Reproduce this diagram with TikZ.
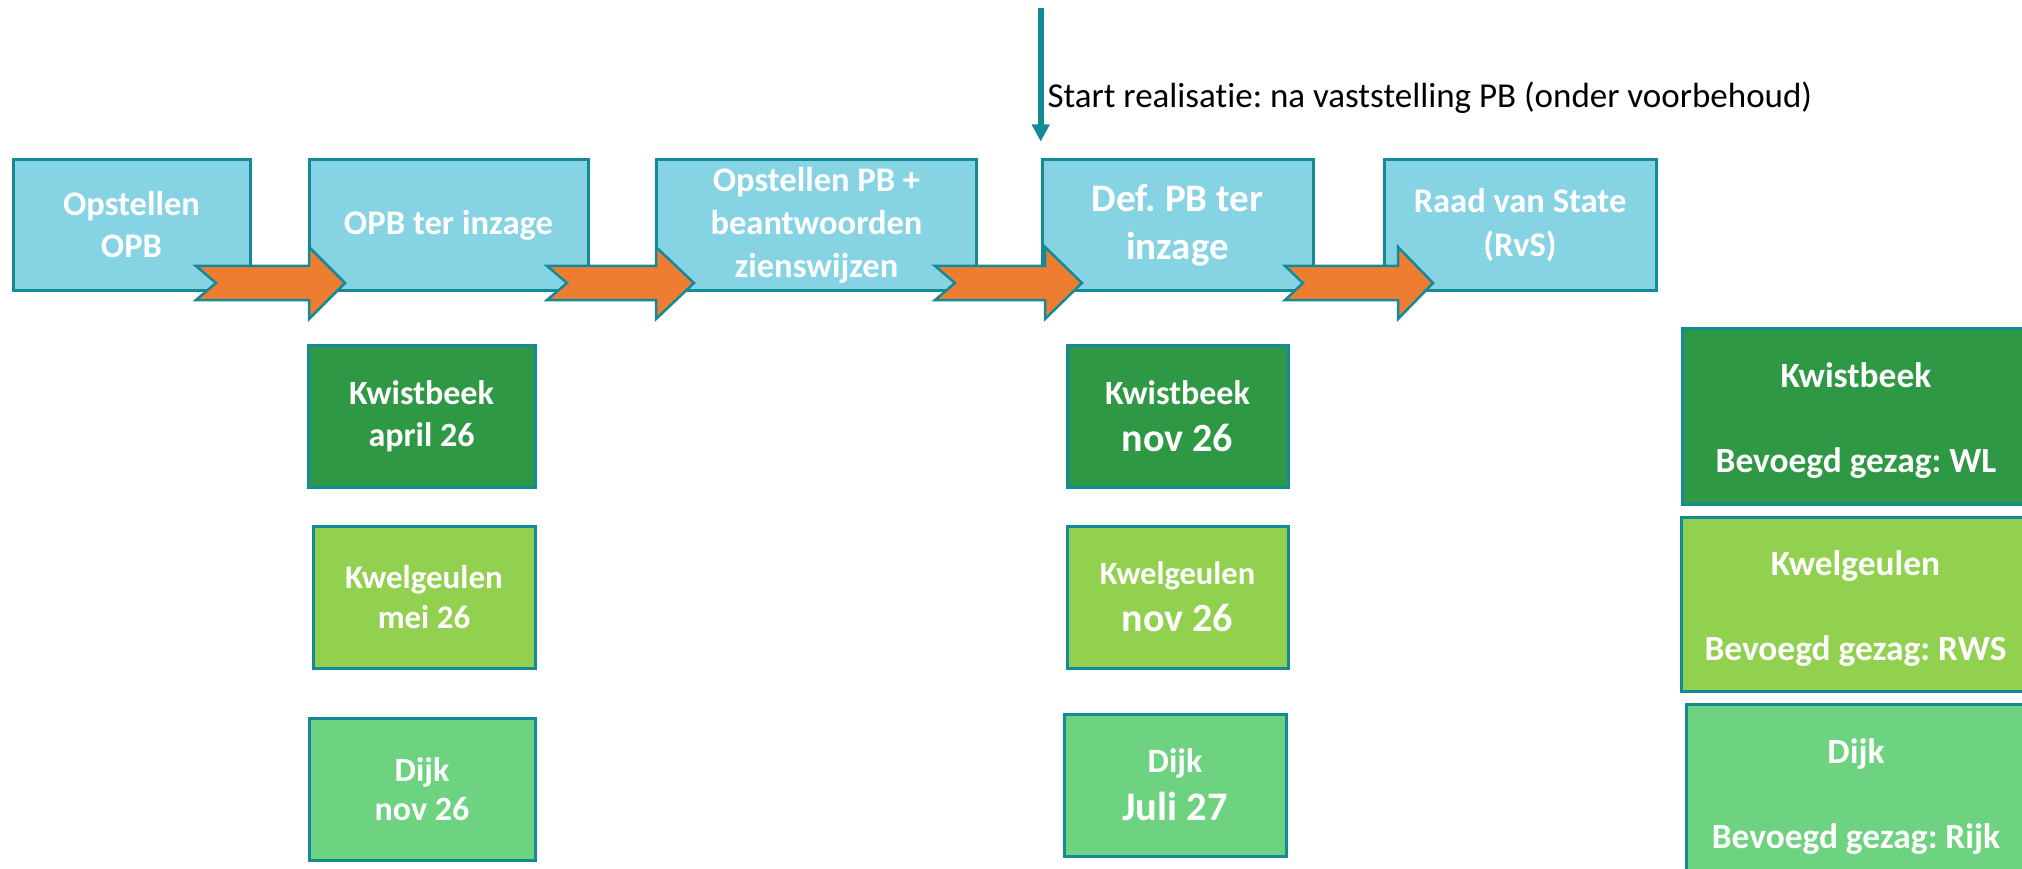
\documentclass[tikz,border=0pt]{standalone}
\usepackage{fontspec}
\setmainfont{Carlito}[Ligatures={NoCommon,NoContextual}]
\usetikzlibrary{arrows.meta}
\definecolor{boxblue}{RGB}{134,211,227}
\definecolor{tealline}{RGB}{20,138,152}
\definecolor{orangefill}{RGB}{237,125,49}
\definecolor{darkgreen}{RGB}{47,152,68}
\definecolor{limegreen}{RGB}{146,208,80}
\definecolor{midgreen}{RGB}{110,211,128}
\newcommand\notcharrow[4]{% tail, notch, head base, tip
  \draw[orangearrow] (#1,266) -- (#3,266) -- (#3,247) -- (#4,283) -- (#3,319) -- (#3,300) -- (#1,300) -- (#2,283) -- cycle;}
\begin{document}
\frenchspacing
\begin{tikzpicture}[x=1pt,y=-1pt,
  stage/.style={draw=tealline, line width=3pt, fill=boxblue, text=white, align=center, inner sep=0pt, minimum height=130pt},
  datebox/.style={draw=tealline, line width=3pt, text=white, align=center, inner sep=0pt, minimum height=142pt},
  gezagbox/.style={draw=tealline, line width=3pt, text=white, align=center, inner sep=0pt,
    font=\bfseries\fontsize{35.4}{42.5}\selectfont},
  orangearrow/.style={draw=tealline, line width=2.5pt, fill=orangefill, line join=miter},
  startarrow/.style={draw=tealline, line width=6pt, -{Triangle[length=17pt,width=17pt]}}
]
\useasboundingbox (0,0) rectangle (2022,869);
\clip (0,0) rectangle (2022,869);

% top row stages
\node[stage, minimum width=237pt, font=\bfseries\fontsize{34.5}{42}\selectfont] (b1) at (131.5,225) {Opstellen\\OPB};
\node[stage, minimum width=279pt, font=\bfseries\fontsize{34.6}{42}\selectfont] (b2) at (448.5,225) {OPB ter inzage};
\node[stage, minimum width=320pt, font=\bfseries\fontsize{34.5}{43}\selectfont] (b3) at (816.5,225) {Opstellen PB +\\beantwoorden\\zienswijzen};
\node[stage, minimum width=271pt, font=\bfseries\fontsize{39}{48}\selectfont] (b4) at (1177.5,225) {Def. PB ter\\inzage};
\node[stage, minimum width=272pt, font=\bfseries\fontsize{34.5}{44.5}\selectfont] (b5) at (1520,225) {Raad van State\\(RvS)};

% orange notched arrows between stages
\notcharrow{196}{216}{309}{345}
\notcharrow{547}{567}{656}{694}
\notcharrow{935}{955}{1045}{1082}
\notcharrow{1285}{1303}{1398}{1433}

% start realisatie arrow
\coordinate (vtop) at (1040.7,8);
\coordinate (vtip) at (1040.7,141.5);
\draw[startarrow] (vtop) -- (vtip);
\node[anchor=base west, inner sep=0pt, font=\fontsize{35}{42}\selectfont] (start) at (1047.3,107.3) {Start realisatie: na vaststelling PB (onder voorbehoud)};

% column A
\node[datebox, fill=darkgreen, minimum width=227pt, font=\bfseries\fontsize{34}{42.5}\selectfont] (kA) at (421.5,416) {Kwistbeek\\april 26};
\node[datebox, fill=limegreen, minimum width=222pt, font=\bfseries\fontsize{33}{39.5}\selectfont] (lA) at (424,597) {Kwelgeulen\\mei 26};
\node[datebox, fill=midgreen, minimum width=226pt, font=\bfseries\fontsize{34}{39.5}\selectfont] (dA) at (422,789) {Dijk\\nov 26};

% column B
\node[datebox, fill=darkgreen, minimum width=221pt, font=\bfseries\fontsize{34}{47.5}\selectfont] (kB) at (1177.5,416) {Kwistbeek\\\fontsize{40}{47.5}\selectfont nov 26};
\node[datebox, fill=limegreen, minimum width=221pt, font=\bfseries\fontsize{32.5}{47}\selectfont] (lB) at (1177.5,597) {Kwelgeulen\\\fontsize{40}{47}\selectfont nov 26};
\node[datebox, fill=midgreen, minimum width=222pt, font=\bfseries\fontsize{34}{48}\selectfont] (dB) at (1175,785) {Dijk\\\fontsize{40.5}{48}\selectfont Juli 27};

% column C
\node[gezagbox, fill=darkgreen, minimum width=348pt, minimum height=176pt] (kC) at (1856,416) {\rule{0pt}{33pt}Kwistbeek\\[42.5pt]Bevoegd gezag: WL};
\node[gezagbox, fill=limegreen, minimum width=349pt, minimum height=174pt] (lC) at (1855.5,604) {\rule{0pt}{33pt}Kwelgeulen\\[42.5pt]Bevoegd gezag: RWS};
\node[gezagbox, fill=midgreen, minimum width=340pt, minimum height=175pt] (dC) at (1856,792) {\rule{0pt}{33pt}Dijk\\[42.5pt]Bevoegd gezag: Rijk};
\end{tikzpicture}
\end{document}
